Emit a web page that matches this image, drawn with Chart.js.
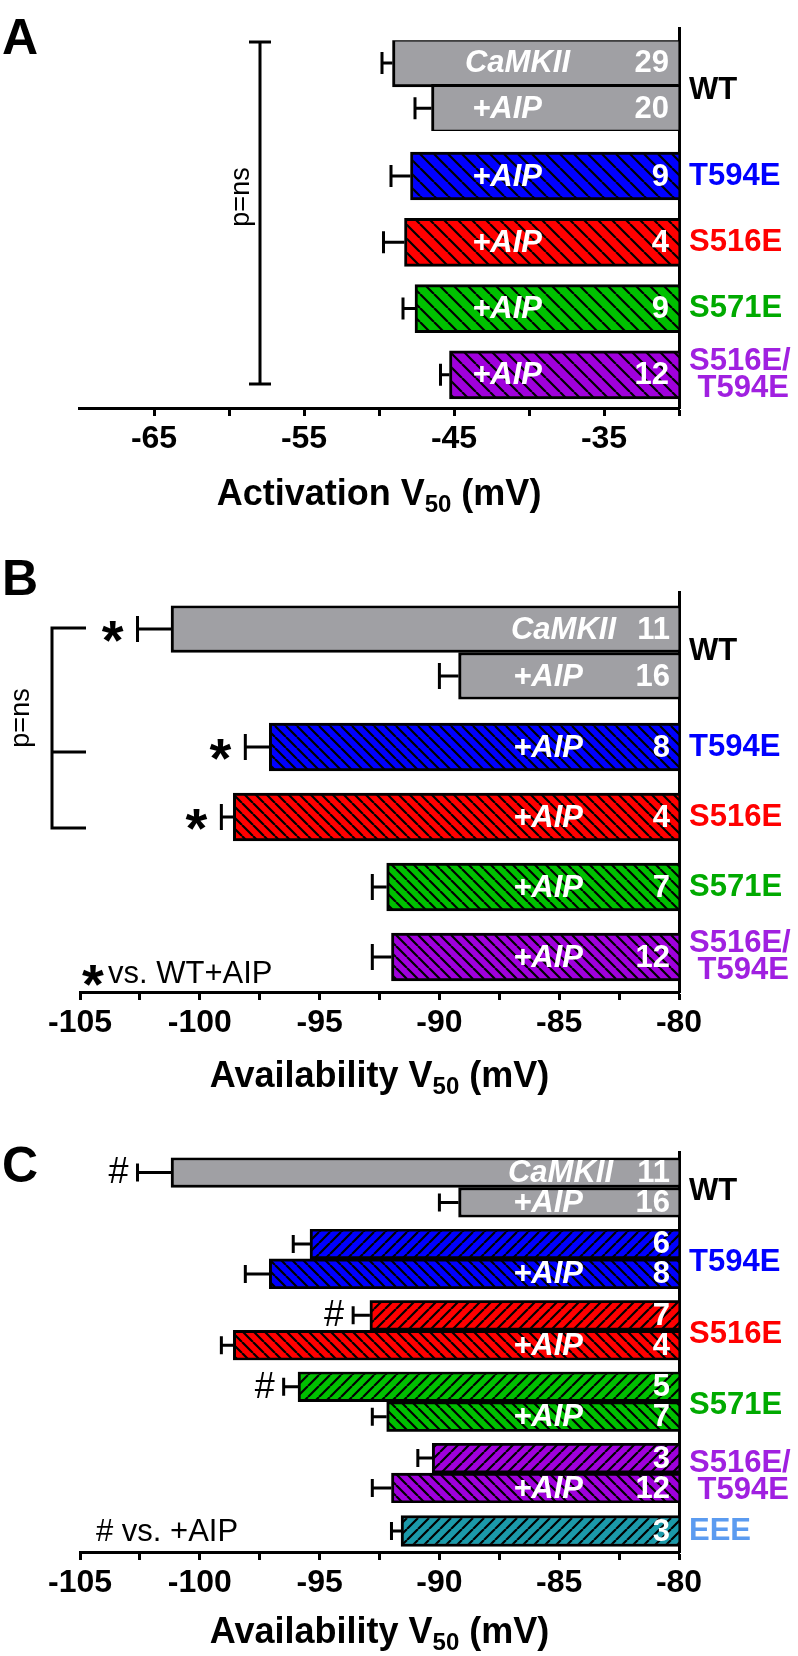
<!DOCTYPE html>
<html>
<head>
<meta charset="utf-8">
<script src="https://cdn.jsdelivr.net/npm/chart.js@4.4.1/dist/chart.umd.min.js"></script>
<style>
  html, body { margin: 0; padding: 0; background: #fff; }
  #wrap { position: relative; width: 798px; height: 1656px; }
  #wrap canvas { position: absolute; left: 0; top: 0; }
</style>
</head>
<body>
<div id="wrap">
  <canvas id="chartA" width="798" height="1656"></canvas>
  <canvas id="chartB" width="798" height="1656"></canvas>
  <canvas id="chartC" width="798" height="1656"></canvas>
</div>
<script>
// ---- data ----
// A: activation V50 (mV)
const actCats = ['WT', 'T594E', 'S516E', 'S571E', 'S516E/T594E'];
const actCaMKII = [-49.1];
const actCaMKIIErr = [0.7];
const actCaMKIIN = [29];
const actAIP = [-46.5, -47.9, -48.3, -47.6, -45.3];
const actAIPErr = [1.1, 1.3, 1.4, 0.8, 0.6];
const actAIPN = [20, 9, 4, 9, 12];
const actTicks = [-65, -55, -45, -35];

// B, C: availability V50 (mV)
const availCats = ['WT', 'T594E', 'S516E', 'S571E', 'S516E/T594E', 'EEE'];
const availAIP = [-89.2, -97.1, -98.6, -92.2, -92.0];
const availAIPErr = [0.8, 1.0, 0.5, 0.6, 0.8];
const availAIPN = [16, 8, 4, 7, 12];
// WT with CaMKII, mutants without AIP (EEE last)
const availNoAIP = [-101.2, -95.4, -92.9, -95.9, -90.3, -91.6];
const availNoAIPErr = [1.4, 0.7, 0.7, 0.6, 0.6, 0.4];
const availNoAIPN = [11, 6, 7, 5, 3, 3];
const availTicks = [-105, -100, -95, -90, -85, -80];
// significance marks
const bStarCaMKII = ['*'];
const bStarAIP = ['', '*', '*', '', ''];
const cHashNoAIP = ['#', '', '#', '#', '', ''];

// ---- styles ----
const FONT = "'Liberation Sans', Arial, sans-serif";
Chart.defaults.font.family = FONT;
Chart.defaults.color = '#000';

const barColor = { 'WT': '#a0a0a4', 'T594E': '#0000ff', 'S516E': '#ff0000', 'S571E': '#00c000',
  'S516E/T594E': '#a000dc', 'EEE': '#1b9aaa' };
const labelColor = { 'WT': '#000', 'T594E': '#0000ff', 'S516E': '#ff0000', 'S571E': '#00aa00',
  'S516E/T594E': '#a020e0', 'EEE': '#5b9bf0' };

function hatch(color, dir, gap) {
  const c = document.createElement('canvas');
  c.width = gap; c.height = gap;
  const g = c.getContext('2d');
  g.fillStyle = color;
  g.fillRect(0, 0, gap, gap);
  g.strokeStyle = '#000';
  g.lineWidth = 2.2;
  g.beginPath();
  for (const o of [-gap, 0, gap]) {
    if (dir === '\\') { g.moveTo(o, 0); g.lineTo(o + gap, gap); }
    else { g.moveTo(o, gap); g.lineTo(o + gap, 0); }
  }
  g.stroke();
  return g.createPattern(c, 'repeat');
}
const fill = (cat, dir, gap) => cat === 'WT' ? barColor.WT : hatch(barColor[cat], dir, gap);

function splitLabel(s) {
  return s.includes('/') ? [s.split('/')[0] + '/', ' ' + s.split('/')[1]] : s;
}

// one horizontal band of the panel = one stacked category axis (+ its bars)
function addBand(p, height, b) {
  const id = 'y' + Object.keys(p.scales).length;
  const rows = b ? b.rows : [''];
  const text = b ? b.text : [''];
  p.scales[id] = {
    type: 'category', labels: rows, position: 'right', stack: 'v',
    stackWeight: height, weight: Object.keys(p.scales).length, offset: true,
    grid: { display: false },
    border: { color: '#000', width: 3 },
    ticks: {
      autoSkip: false, padding: 2, labelOffset: b && b.labelOffset || 0,
      font: { size: 31, weight: 'bold', lineHeight: 0.85 },
      color: c => labelColor[text[c.index]] || '#000',
      callback: (v, i) => splitLabel(text[i] || '')
    },
    afterFit: s => { s.width = 119; }
  };
  if (b) {
    p.datasets.push({
      yAxisID: id, data: b.vals, base: p.max, grouped: false,
      barThickness: b.thick, backgroundColor: b.fills,
      borderColor: '#000', borderWidth: 3,
      errors: b.errs, counts: b.ns, tags: b.tags, sig: b.sig || []
    });
  }
}

function drawTitle(ctx, cx, cy, main) {
  const big = 'bold 36px ' + FONT, small = 'bold 24px ' + FONT;
  ctx.font = big;
  const w1 = ctx.measureText(main).width, w3 = ctx.measureText(' (mV)').width;
  ctx.font = small;
  const w2 = ctx.measureText('50').width;
  let x = cx - (w1 + w2 + w3) / 2;
  ctx.textAlign = 'left';
  ctx.textBaseline = 'middle';
  ctx.fillStyle = '#000';
  ctx.font = big; ctx.fillText(main, x, cy); x += w1;
  ctx.font = small; ctx.fillText('50', x, cy + 10); x += w2;
  ctx.font = big; ctx.fillText(' (mV)', x, cy);
}

function extras(p) {
  return {
    id: 'extras',
    afterDatasetsDraw(chart) {
      const ctx = chart.ctx, xs = chart.scales.x;
      chart.data.datasets.forEach((ds, di) => {
        chart.getDatasetMeta(di).data.forEach((el, i) => {
          const v = ds.data[i];
          if (v == null) return;
          const xe = xs.getPixelForValue(v - ds.errors[i]);
          ctx.save();
          ctx.strokeStyle = '#000';
          ctx.lineWidth = 3;
          ctx.beginPath();
          ctx.moveTo(el.x, el.y); ctx.lineTo(xe, el.y);
          ctx.moveTo(xe, el.y - p.cap / 2); ctx.lineTo(xe, el.y + p.cap / 2);
          ctx.stroke();
          ctx.fillStyle = '#fff';
          ctx.textAlign = 'right';
          ctx.textBaseline = 'middle';
          ctx.font = 'bold 31px ' + FONT;
          ctx.fillText(String(ds.counts[i]), xs.right - p.countGap, el.y + 1);
          const tag = ds.tags[i];
          if (tag) {
            ctx.font = 'italic bold 31px ' + FONT;
            ctx.fillText(tag, xs.right - p.tagGap[tag], el.y + 1);
          }
          const s = ds.sig[i];
          ctx.fillStyle = '#000';
          if (s === '*') {
            ctx.font = 'bold 56px ' + FONT;
            ctx.textBaseline = 'alphabetic';
            ctx.fillText('*', xe - 14, el.y + 30);
          } else if (s === '#') {
            ctx.font = '36px ' + FONT;
            ctx.fillText('#', xe - 9, el.y + 1);
          }
          ctx.restore();
        });
      });
    },
    afterDraw(chart) {
      const ctx = chart.ctx, a = chart.chartArea;
      ctx.save();
      drawTitle(ctx, (a.left + a.right) / 2, p.titleY, p.title);
      ctx.textAlign = 'left';
      ctx.textBaseline = 'middle';
      ctx.font = 'bold 50px ' + FONT;
      ctx.fillText(p.letter, 2, p.letterY);
      p.annotate(ctx);
      ctx.restore();
    }
  };
}

function rotText(ctx, txt, x, y) {
  ctx.save();
  ctx.translate(x, y);
  ctx.rotate(-Math.PI / 2);
  ctx.font = '27px ' + FONT;
  ctx.textAlign = 'center';
  ctx.textBaseline = 'middle';
  ctx.fillText(txt, 0, 0);
  ctx.restore();
}

function makePanel(id, p) {
  return new Chart(document.getElementById(id), {
    type: 'bar',
    data: { datasets: p.datasets },
    options: {
      indexAxis: 'y',
      responsive: false,
      animation: false,
      events: [],
      layout: { padding: { left: p.left, right: 0, top: p.top, bottom: 1656 - p.bottom - 60 } },
      plugins: { legend: { display: false }, tooltip: { enabled: false } },
      scales: Object.assign({
        x: {
          type: 'linear', min: p.min, max: p.max, position: 'bottom',
          grid: { drawOnChartArea: false, drawTicks: true, tickLength: 8, tickWidth: 3,
            tickColor: c => (p.hideMinTick && c.tick && c.tick.value === p.min) ? 'rgba(0,0,0,0)' : '#000' },
          border: { color: '#000', width: 3 },
          ticks: {
            stepSize: p.step, autoSkip: false, maxRotation: 0, padding: 4,
            font: { size: 32, weight: 'bold' },
            callback: v => p.ticks.includes(v) ? String(v) : ''
          },
          afterFit: s => { s.height = 60; }
        }
      }, p.scales)
    },
    plugins: [extras(p)]
  });
}

// ---- panel A ----
const pA = {
  left: 79, top: 7, bottom: 408, min: -70, max: -30, step: 5, ticks: actTicks, hideMinTick: true,
  cap: 22, countGap: 10, tagGap: { 'CaMKII': 109, '+AIP': 137 },
  title: 'Activation V', titleY: 495, letter: 'A', letterY: 40,
  scales: {}, datasets: [],
  annotate(ctx) {
    ctx.strokeStyle = '#000';
    ctx.lineWidth = 3;
    ctx.beginPath();
    ctx.moveTo(260, 42); ctx.lineTo(260, 384);
    ctx.moveTo(249, 42); ctx.lineTo(271, 42);
    ctx.moveTo(249, 384); ctx.lineTo(271, 384);
    ctx.stroke();
    rotText(ctx, 'p=ns', 242, 197);
  }
};
addBand(pA, 12.5);
addBand(pA, 96, {
  rows: ['CaMKII', '+AIP'], text: ['WT', ''], labelOffset: 28, thick: 48,
  vals: [actCaMKII[0], actAIP[0]], errs: [actCaMKIIErr[0], actAIPErr[0]], ns: [actCaMKIIN[0], actAIPN[0]],
  tags: ['CaMKII', '+AIP'], fills: [fill('WT'), fill('WT')]
});
addBand(pA, 12.5);
addBand(pA, 280, {
  rows: actCats.slice(1), text: actCats.slice(1), thick: 48,
  vals: actAIP.slice(1), errs: actAIPErr.slice(1), ns: actAIPN.slice(1),
  tags: actCats.slice(1).map(() => '+AIP'), fills: actCats.slice(1).map(c => fill(c, '\\', 14))
});
makePanel('chartA', pA);

// ---- panel B ----
const pB = {
  left: 80, top: 592, bottom: 992, min: -105, max: -80, step: 2.5, ticks: availTicks,
  cap: 26, countGap: 9, tagGap: { 'CaMKII': 63, '+AIP': 96 },
  title: 'Availability V', titleY: 1077, letter: 'B', letterY: 581,
  scales: {}, datasets: [],
  annotate(ctx) {
    ctx.strokeStyle = '#000';
    ctx.lineWidth = 3;
    ctx.beginPath();
    ctx.moveTo(86, 628); ctx.lineTo(52, 628); ctx.lineTo(52, 828); ctx.lineTo(86, 828);
    ctx.moveTo(52, 752); ctx.lineTo(86, 752);
    ctx.stroke();
    rotText(ctx, 'p=ns', 22, 718);
    ctx.textAlign = 'left';
    ctx.textBaseline = 'alphabetic';
    ctx.font = 'bold 56px ' + FONT;
    ctx.fillText('*', 82, 1003);
    ctx.font = '31px ' + FONT;
    ctx.textBaseline = 'middle';
    ctx.fillText('vs. WT+AIP', 108, 974);
  }
};
addBand(pB, 13.5);
addBand(pB, 94, {
  rows: ['CaMKII', '+AIP'], text: ['WT', ''], labelOffset: 22, thick: 47,
  vals: [availNoAIP[0], availAIP[0]], errs: [availNoAIPErr[0], availAIPErr[0]], ns: [availNoAIPN[0], availAIPN[0]],
  tags: ['CaMKII', '+AIP'], fills: [fill('WT'), fill('WT')], sig: [bStarCaMKII[0], bStarAIP[0]]
});
addBand(pB, 12.5);
addBand(pB, 280, {
  rows: availCats.slice(1, 5), text: availCats.slice(1, 5), thick: 48,
  vals: availAIP.slice(1), errs: availAIPErr.slice(1), ns: availAIPN.slice(1),
  tags: availCats.slice(1, 5).map(() => '+AIP'), fills: availCats.slice(1, 5).map(c => fill(c, '\\', 11)),
  sig: bStarAIP.slice(1)
});
makePanel('chartB', pB);

// ---- panel C ----
const pC = {
  left: 80, top: 1152, bottom: 1552, min: -105, max: -80, step: 2.5, ticks: availTicks,
  cap: 18, countGap: 9, tagGap: { 'CaMKII': 66, '+AIP': 96 },
  title: 'Availability V', titleY: 1633, letter: 'C', letterY: 1168,
  scales: {}, datasets: [],
  annotate(ctx) {
    ctx.textAlign = 'left';
    ctx.textBaseline = 'middle';
    ctx.font = '31px ' + FONT;
    ctx.fillText('# vs. +AIP', 96, 1532);
  }
};
addBand(pC, 5.5);
availCats.slice(0, 5).forEach((cat, k) => {
  addBand(pC, 60, {
    rows: [cat, cat + ' +AIP'], text: [cat, ''], labelOffset: 19, thick: 30,
    vals: [availNoAIP[k], availAIP[k]], errs: [availNoAIPErr[k], availAIPErr[k]], ns: [availNoAIPN[k], availAIPN[k]],
    tags: [k === 0 ? 'CaMKII' : '', '+AIP'], fills: [fill(cat, '/', 11), fill(cat, '\\', 11)],
    sig: [cHashNoAIP[k], '']
  });
  addBand(pC, k < 4 ? 11.4 : 6.9);
});
addBand(pC, 42, {
  rows: availCats.slice(5), text: availCats.slice(5), thick: 31,
  vals: availNoAIP.slice(5), errs: availNoAIPErr.slice(5), ns: availNoAIPN.slice(5),
  tags: [''], fills: availCats.slice(5).map(c => fill(c, '/', 11)), sig: cHashNoAIP.slice(5)
});
makePanel('chartC', pC);
</script>
</body>
</html>
